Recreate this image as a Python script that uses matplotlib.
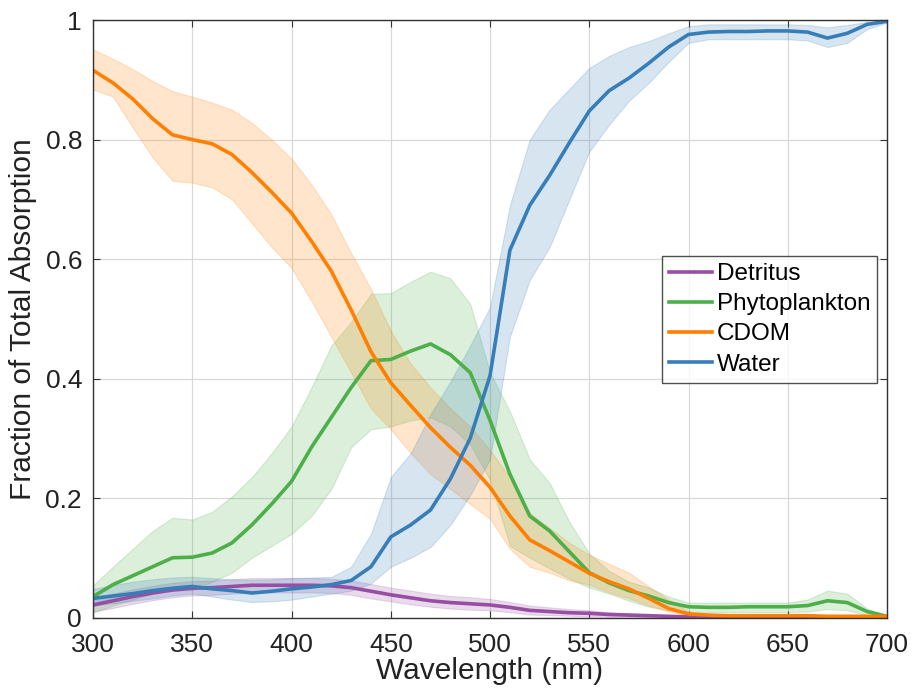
import numpy as np
import matplotlib.pyplot as plt

plt.rcParams['font.family'] = ['Liberation Sans', 'DejaVu Sans']

# Wavelength grid (nm)
wl = np.arange(300, 701, 10)

# Fraction of total absorption, mean and spread
detritus = [0.021, 0.028, 0.035, 0.041, 0.046, 0.049, 0.050, 0.052, 0.054, 0.054,
            0.054, 0.054, 0.053, 0.050, 0.044, 0.038, 0.033, 0.028, 0.025, 0.023,
            0.021, 0.017, 0.012, 0.010, 0.008, 0.007, 0.005, 0.004, 0.003, 0.002,
            0.001, 0.001, 0.001, 0.001, 0.001, 0.001, 0.001, 0.001, 0.001, 0.001, 0.001]
detritus_hi = [0.033, 0.040, 0.047, 0.053, 0.058, 0.061, 0.062, 0.064, 0.066, 0.066,
               0.066, 0.066, 0.065, 0.062, 0.056, 0.050, 0.045, 0.040, 0.036, 0.034,
               0.031, 0.026, 0.020, 0.017, 0.014, 0.012, 0.009, 0.007, 0.006, 0.004,
               0.003, 0.002, 0.002, 0.002, 0.002, 0.002, 0.002, 0.002, 0.002, 0.002, 0.002]
detritus_lo = [0.010, 0.016, 0.023, 0.029, 0.034, 0.037, 0.038, 0.040, 0.042, 0.042,
               0.042, 0.042, 0.041, 0.038, 0.032, 0.027, 0.022, 0.018, 0.015, 0.013,
               0.012, 0.009, 0.005, 0.004, 0.003, 0.002, 0.001, 0.001, 0.000, 0.000,
               0.000, 0.000, 0.000, 0.000, 0.000, 0.000, 0.000, 0.000, 0.000, 0.000, 0.000]

phyto = [0.035, 0.055, 0.070, 0.085, 0.100, 0.101, 0.108, 0.125, 0.155, 0.190,
         0.228, 0.285, 0.335, 0.385, 0.430, 0.432, 0.446, 0.458, 0.440, 0.410,
         0.330, 0.240, 0.170, 0.145, 0.110, 0.075, 0.058, 0.045, 0.036, 0.025,
         0.018, 0.017, 0.017, 0.018, 0.018, 0.018, 0.020, 0.028, 0.025, 0.010, 0.002]
phyto_hi = [0.054, 0.085, 0.115, 0.145, 0.167, 0.164, 0.177, 0.203, 0.235, 0.275,
            0.320, 0.385, 0.455, 0.495, 0.542, 0.543, 0.562, 0.579, 0.568, 0.525,
            0.410, 0.345, 0.265, 0.225, 0.160, 0.107, 0.078, 0.060, 0.050, 0.035,
            0.025, 0.025, 0.025, 0.025, 0.025, 0.025, 0.030, 0.045, 0.040, 0.015, 0.003]
phyto_lo = [0.008, 0.020, 0.030, 0.040, 0.045, 0.046, 0.060, 0.075, 0.100, 0.120,
            0.140, 0.170, 0.215, 0.285, 0.315, 0.320, 0.330, 0.335, 0.320, 0.290,
            0.230, 0.120, 0.100, 0.082, 0.065, 0.050, 0.040, 0.028, 0.018, 0.012,
            0.009, 0.009, 0.009, 0.009, 0.009, 0.009, 0.010, 0.014, 0.012, 0.004, 0.000]

cdom = [0.916, 0.895, 0.868, 0.835, 0.808, 0.800, 0.793, 0.775, 0.745, 0.712,
        0.677, 0.630, 0.580, 0.515, 0.445, 0.393, 0.355, 0.318, 0.285, 0.255,
        0.218, 0.170, 0.130, 0.112, 0.093, 0.074, 0.060, 0.048, 0.032, 0.015,
        0.006, 0.004, 0.003, 0.003, 0.003, 0.003, 0.003, 0.002, 0.002, 0.002, 0.002]
cdom_hi = [0.951, 0.935, 0.918, 0.898, 0.881, 0.872, 0.862, 0.850, 0.828, 0.800,
           0.768, 0.725, 0.675, 0.610, 0.550, 0.480, 0.425, 0.385, 0.350, 0.320,
           0.280, 0.235, 0.175, 0.150, 0.125, 0.105, 0.090, 0.075, 0.052, 0.030,
           0.010, 0.006, 0.005, 0.005, 0.004, 0.004, 0.004, 0.004, 0.004, 0.004, 0.004]
cdom_lo = [0.884, 0.872, 0.820, 0.770, 0.731, 0.728, 0.720, 0.700, 0.660, 0.620,
           0.585, 0.530, 0.470, 0.410, 0.350, 0.315, 0.275, 0.240, 0.215, 0.190,
           0.165, 0.115, 0.085, 0.075, 0.062, 0.055, 0.042, 0.032, 0.020, 0.010,
           0.003, 0.001, 0.001, 0.001, 0.001, 0.001, 0.001, 0.001, 0.001, 0.001, 0.001]

water = [0.032, 0.036, 0.040, 0.045, 0.049, 0.052, 0.048, 0.045, 0.041, 0.044,
         0.048, 0.051, 0.055, 0.062, 0.085, 0.135, 0.155, 0.180, 0.232, 0.300,
         0.405, 0.615, 0.690, 0.740, 0.795, 0.848, 0.882, 0.903, 0.928, 0.955,
         0.976, 0.980, 0.981, 0.981, 0.982, 0.982, 0.980, 0.970, 0.978, 0.993, 0.998]
water_hi = [0.048, 0.054, 0.060, 0.064, 0.067, 0.068, 0.066, 0.064, 0.063, 0.064,
            0.066, 0.067, 0.068, 0.085, 0.140, 0.235, 0.275, 0.340, 0.395, 0.455,
            0.520, 0.690, 0.800, 0.850, 0.885, 0.920, 0.940, 0.955, 0.965, 0.978,
            0.990, 0.993, 0.993, 0.993, 0.993, 0.993, 0.992, 0.988, 0.992, 0.997, 1.000]
water_lo = [0.020, 0.024, 0.028, 0.032, 0.037, 0.040, 0.035, 0.030, 0.026, 0.027,
            0.030, 0.035, 0.040, 0.045, 0.057, 0.085, 0.100, 0.118, 0.155, 0.205,
            0.265, 0.470, 0.565, 0.620, 0.700, 0.780, 0.825, 0.865, 0.895, 0.930,
            0.962, 0.968, 0.968, 0.968, 0.968, 0.968, 0.966, 0.955, 0.962, 0.985, 0.996]

series = [
    ("Detritus", detritus, detritus_lo, detritus_hi, "#984EA3"),
    ("Phytoplankton", phyto, phyto_lo, phyto_hi, "#4DAF4A"),
    ("CDOM", cdom, cdom_lo, cdom_hi, "#FF7F00"),
    ("Water", water, water_lo, water_hi, "#377EB8"),
]

fig = plt.figure(figsize=(9.13, 6.95), dpi=100)
ax = fig.add_axes([0.102, 0.1115, 0.8695, 0.8595])

# shaded spread first, then the mean lines on top
for name, m, lo, hi, c in series:
    ax.fill_between(wl, lo, hi, facecolor=c, alpha=0.2, edgecolor=c, linewidth=0.8)
for name, m, lo, hi, c in series:
    ax.plot(wl, m, color=c, lw=2.6, label=name)

ax.set_xlim(300, 700)
ax.set_ylim(0, 1)
ax.set_xticks(np.arange(300, 701, 50))
ax.set_yticks([0, 0.2, 0.4, 0.6, 0.8, 1])
ax.set_yticklabels(["0", "0.2", "0.4", "0.6", "0.8", "1"])
ax.grid(True, color="#d9d9d9", lw=0.9)
ax.set_axisbelow(True)
ax.tick_params(direction="in", top=True, right=True, labelsize=19, length=5,
               color="#333333", labelcolor="#222222")
ax.tick_params(axis="x", pad=11)
ax.tick_params(axis="y", pad=8)
for s in ax.spines.values():
    s.set_color("#333333")
    s.set_linewidth(1.0)

ax.set_xlabel("Wavelength (nm)", fontsize=21.5, labelpad=0, color="#222222")
ax.set_ylabel("Fraction of Total Absorption", fontsize=21.5, labelpad=6,
              color="#222222")

leg = ax.legend(loc="upper right", bbox_to_anchor=(0.988, 0.605), fontsize=17.5,
                frameon=True, fancybox=False, edgecolor="#222222",
                handlelength=1.75, handletextpad=0.2, borderpad=0.3,
                labelspacing=0.33, borderaxespad=0)
leg.get_frame().set_linewidth(1.0)

fig.savefig("out.png", dpi=100)
